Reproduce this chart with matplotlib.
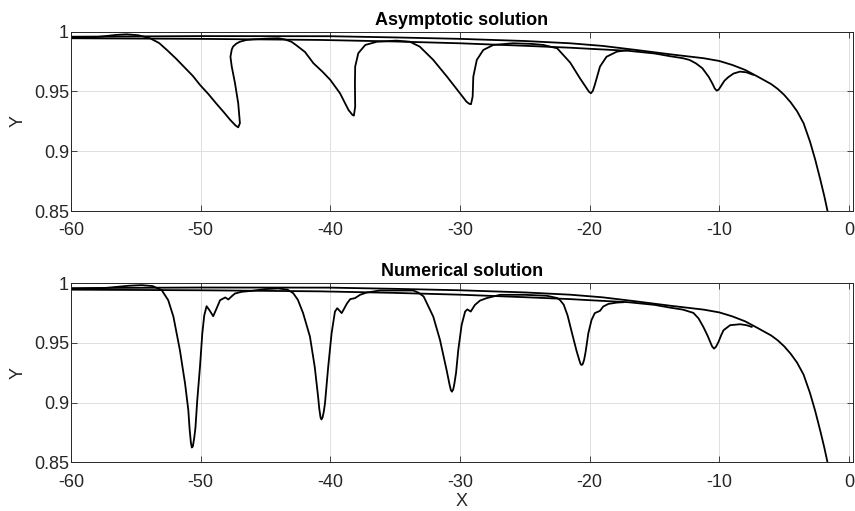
import matplotlib
matplotlib.use("Agg")
import matplotlib.pyplot as plt

plt.rcParams["font.family"] = ["Liberation Sans", "DejaVu Sans"]
plt.rcParams["axes.unicode_minus"] = False

# ---- upper envelope (same in both panels) ----
env_x = [-60, -50, -40, -35, -30, -25, -21.5, -19, -16.4, -13.8, -11.2, -10,
         -9.0, -8.0, -7.0, -6.0, -5.5, -5.0, -4.5, -4.0, -3.5, -3.0, -2.6,
         -2.2, -1.9, -1.65]
env_y = [0.9958, 0.9963, 0.9962, 0.9952, 0.9940, 0.9922, 0.9903, 0.9881, 0.9847,
         0.9811, 0.9778, 0.9755, 0.9722, 0.9680, 0.9622, 0.9562, 0.9522, 0.9472,
         0.9410, 0.9335, 0.9235, 0.9080, 0.8930, 0.8760, 0.8625, 0.8500]

# ---- lower branch, asymptotic ----
low_a_x = [-60, -50, -40.8, -35, -30, -25, -21.5, -20, -17, -15, -13.8, -12.8,
           -12.3, -11.8, -11.3, -10.8, -10.5, -10.35, -10.2, -10.05, -9.9, -9.6,
           -9.3, -8.9, -8.4, -7.9, -7.4]
low_a_y = [0.9945, 0.9940, 0.9931, 0.9918, 0.9903, 0.9882, 0.9866, 0.9857, 0.9840,
           0.9818, 0.9795, 0.9778, 0.9764, 0.9735, 0.9694, 0.9620, 0.9560, 0.9525,
           0.9507, 0.9515, 0.9540, 0.9590, 0.9620, 0.9650, 0.9666, 0.9660, 0.9640]

# ---- lower branch, numerical ----
low_n_x = [-60, -50, -40.8, -35, -30, -25, -21.5, -20, -17, -15, -13.8, -12.8,
           -12.0, -11.6, -11.23, -10.9, -10.7, -10.55, -10.4, -10.25, -10.06, -9.85,
           -9.67, -9.16, -8.39, -7.9, -7.5]
low_n_y = [0.9945, 0.9940, 0.9931, 0.9918, 0.9903, 0.9882, 0.9866, 0.9857, 0.9840,
           0.9818, 0.9795, 0.9778, 0.9751, 0.9705, 0.9634, 0.9560, 0.9508, 0.9470,
           0.9452, 0.9468, 0.9508, 0.9565, 0.9606, 0.9648, 0.9656, 0.9648, 0.9634]

# ---- dipping branch, asymptotic ----
dip_a_x = [-60.0, -58.0, -56.5, -55.7, -54.8, -53.9, -53.2, -52.6, -51.9, -51.3,
           -50.6, -50.05, -49.4, -48.8, -48.2, -47.7, -47.3, -47.1, -46.97, -47.1,
           -47.35, -47.6, -47.7, -47.6, -47.5, -47.25, -46.97, -46.5, -45.9, -44.9,
           -44.0, -43.5, -43.0, -42.6, -41.95, -41.3, -40.6, -40.0, -39.25, -38.6,
           -38.3, -38.18, -38.08, -38.1, -38.08, -37.84, -37.3, -36.4, -34.9, -33.86,
           -33.1, -32.06, -31.0, -30.0, -29.5, -29.3, -29.15, -29.02, -28.97, -28.7,
           -28.2, -27.43, -25.9, -24.5, -23.57, -22.5, -21.5, -20.75, -20.23, -20.05,
           -19.9, -19.75, -19.6, -19.2, -18.7, -17.9, -17.15]
dip_a_y = [0.9950, 0.9955, 0.9973, 0.9978, 0.9970, 0.9945, 0.9905, 0.9847, 0.9775, 0.9708,
           0.9630, 0.9555, 0.9478, 0.9400, 0.9325, 0.9260, 0.9215, 0.9200, 0.9235, 0.9400,
           0.9570, 0.9708, 0.9790, 0.9850, 0.9875, 0.9900, 0.9916, 0.9930, 0.9936, 0.9942,
           0.9945, 0.9935, 0.9916, 0.9885, 0.9830, 0.9736, 0.9665, 0.9597, 0.9485, 0.9346,
           0.9305, 0.9298, 0.9373, 0.9569, 0.9708, 0.9820, 0.9889, 0.9916, 0.9925, 0.9916,
           0.9875, 0.9764, 0.9624, 0.9485, 0.9415, 0.9398, 0.9393, 0.9457, 0.9624, 0.9764,
           0.9847, 0.9889, 0.9903, 0.9898, 0.9889, 0.9861, 0.9742, 0.9611, 0.9527, 0.9498,
           0.9485, 0.9505, 0.9555, 0.9708, 0.9790, 0.9833, 0.9845]

# ---- dipping branch, numerical ----
dip_n_x = [-60.0, -57.5, -55.5, -54.55, -53.7, -53.0, -52.5, -52.1, -51.6, -51.2,
           -50.95, -50.85, -50.75, -50.68, -50.6, -50.5, -50.4, -50.26, -50.05, -49.87,
           -49.72, -49.54, -49.3, -49.03, -48.8, -48.5, -48.1, -47.86, -47.6, -47.35,
           -46.84, -46.07, -45.0, -44.0, -43.3, -42.86, -42.5, -42.1, -41.57, -41.2,
           -40.94, -40.85, -40.75, -40.68, -40.6, -40.5, -40.41, -40.16, -39.9, -39.64,
           -39.46, -39.12, -38.7, -38.46, -38.1, -37.7, -37.2, -36.17, -33.6, -33.2,
           -32.8, -32.06, -31.54, -31.03, -30.8, -30.7, -30.62, -30.52, -30.42, -30.3,
           -30.13, -29.87, -29.6, -29.43, -29.17, -28.84, -28.45, -27.95, -26.9, -25.0,
           -23.3, -22.5, -22.3, -22.0, -21.7, -21.4, -21.0, -20.75, -20.68, -20.6,
           -20.52, -20.42, -20.3, -20.1, -19.85, -19.6, -19.2, -18.95, -18.55, -17.9,
           -17.4]
dip_n_y = [0.9950, 0.9958, 0.9978, 0.9983, 0.9975, 0.9941, 0.9857, 0.9720, 0.9440, 0.9160,
           0.8938, 0.8780, 0.8665, 0.8625, 0.8635, 0.8700, 0.8790, 0.9020, 0.9300, 0.9580,
           0.9730, 0.9807, 0.9770, 0.9723, 0.9780, 0.9857, 0.9880, 0.9863, 0.9890, 0.9913,
           0.9927, 0.9935, 0.9950, 0.9955, 0.9945, 0.9916, 0.9860, 0.9750, 0.9553, 0.9300,
           0.9050, 0.8950, 0.8875, 0.8860, 0.8875, 0.8925, 0.8994, 0.9300, 0.9580, 0.9762,
           0.9790, 0.9749, 0.9832, 0.9866, 0.9874, 0.9902, 0.9921, 0.9938, 0.9938, 0.9920,
           0.9888, 0.9720, 0.9525, 0.9273, 0.9150, 0.9105, 0.9092, 0.9110, 0.9165, 0.9250,
           0.9440, 0.9650, 0.9762, 0.9780, 0.9762, 0.9818, 0.9854, 0.9874, 0.9902, 0.9902,
           0.9894, 0.9875, 0.9860, 0.9820, 0.9730, 0.9600, 0.9430, 0.9340, 0.9320, 0.9315,
           0.9325, 0.9360, 0.9430, 0.9580, 0.9692, 0.9749, 0.9768, 0.9804, 0.9826, 0.9837,
           0.9840]

x_ticks = [-60, -50, -40, -30, -20, -10, 0]
y_ticks = [0.85, 0.9, 0.95, 1]
y_labels = ["0.85", "0.9", "0.95", "1"]

TXT = "#262626"
FS = 13
fig = plt.figure(figsize=(8.55, 5.11), dpi=100)
ax_top = fig.add_axes([0.083, 0.587, 0.9146, 0.351])
ax_bot = fig.add_axes([0.083, 0.095, 0.9146, 0.351])

panels = [
    (ax_top, "Asymptotic solution", (dip_a_x, dip_a_y), (low_a_x, low_a_y)),
    (ax_bot, "Numerical solution", (dip_n_x, dip_n_y), (low_n_x, low_n_y)),
]

for ax, title, dip, low in panels:
    ax.plot(env_x, env_y, color="black", lw=1.3)
    ax.plot(low[0], low[1], color="black", lw=1.3)
    ax.plot(dip[0], dip[1], color="black", lw=1.3)
    ax.set_xlim(-60, 0.31)
    ax.set_ylim(0.85, 1.0)
    ax.set_xticks(x_ticks)
    ax.set_xticklabels([str(t) for t in x_ticks])
    ax.set_yticks(y_ticks)
    ax.set_yticklabels(y_labels)
    ax.grid(True, color="#dfdfdf", lw=0.7)
    ax.set_axisbelow(True)
    ax.tick_params(direction="in", length=4, width=0.6, colors=TXT,
                   labelsize=FS, top=True, right=True)
    ax.tick_params(axis="x", pad=8)
    ax.tick_params(axis="y", pad=1.5)
    for s in ax.spines.values():
        s.set_color(TXT)
        s.set_linewidth(0.7)
    ax.set_title(title, fontsize=FS, fontweight="bold", color="black", pad=5)
    ax.set_ylabel("Y", fontsize=FS, color=TXT, labelpad=5)

ax_bot.set_xlabel("X", fontsize=FS, color=TXT, labelpad=2)

fig.savefig("out.png", dpi=100)
